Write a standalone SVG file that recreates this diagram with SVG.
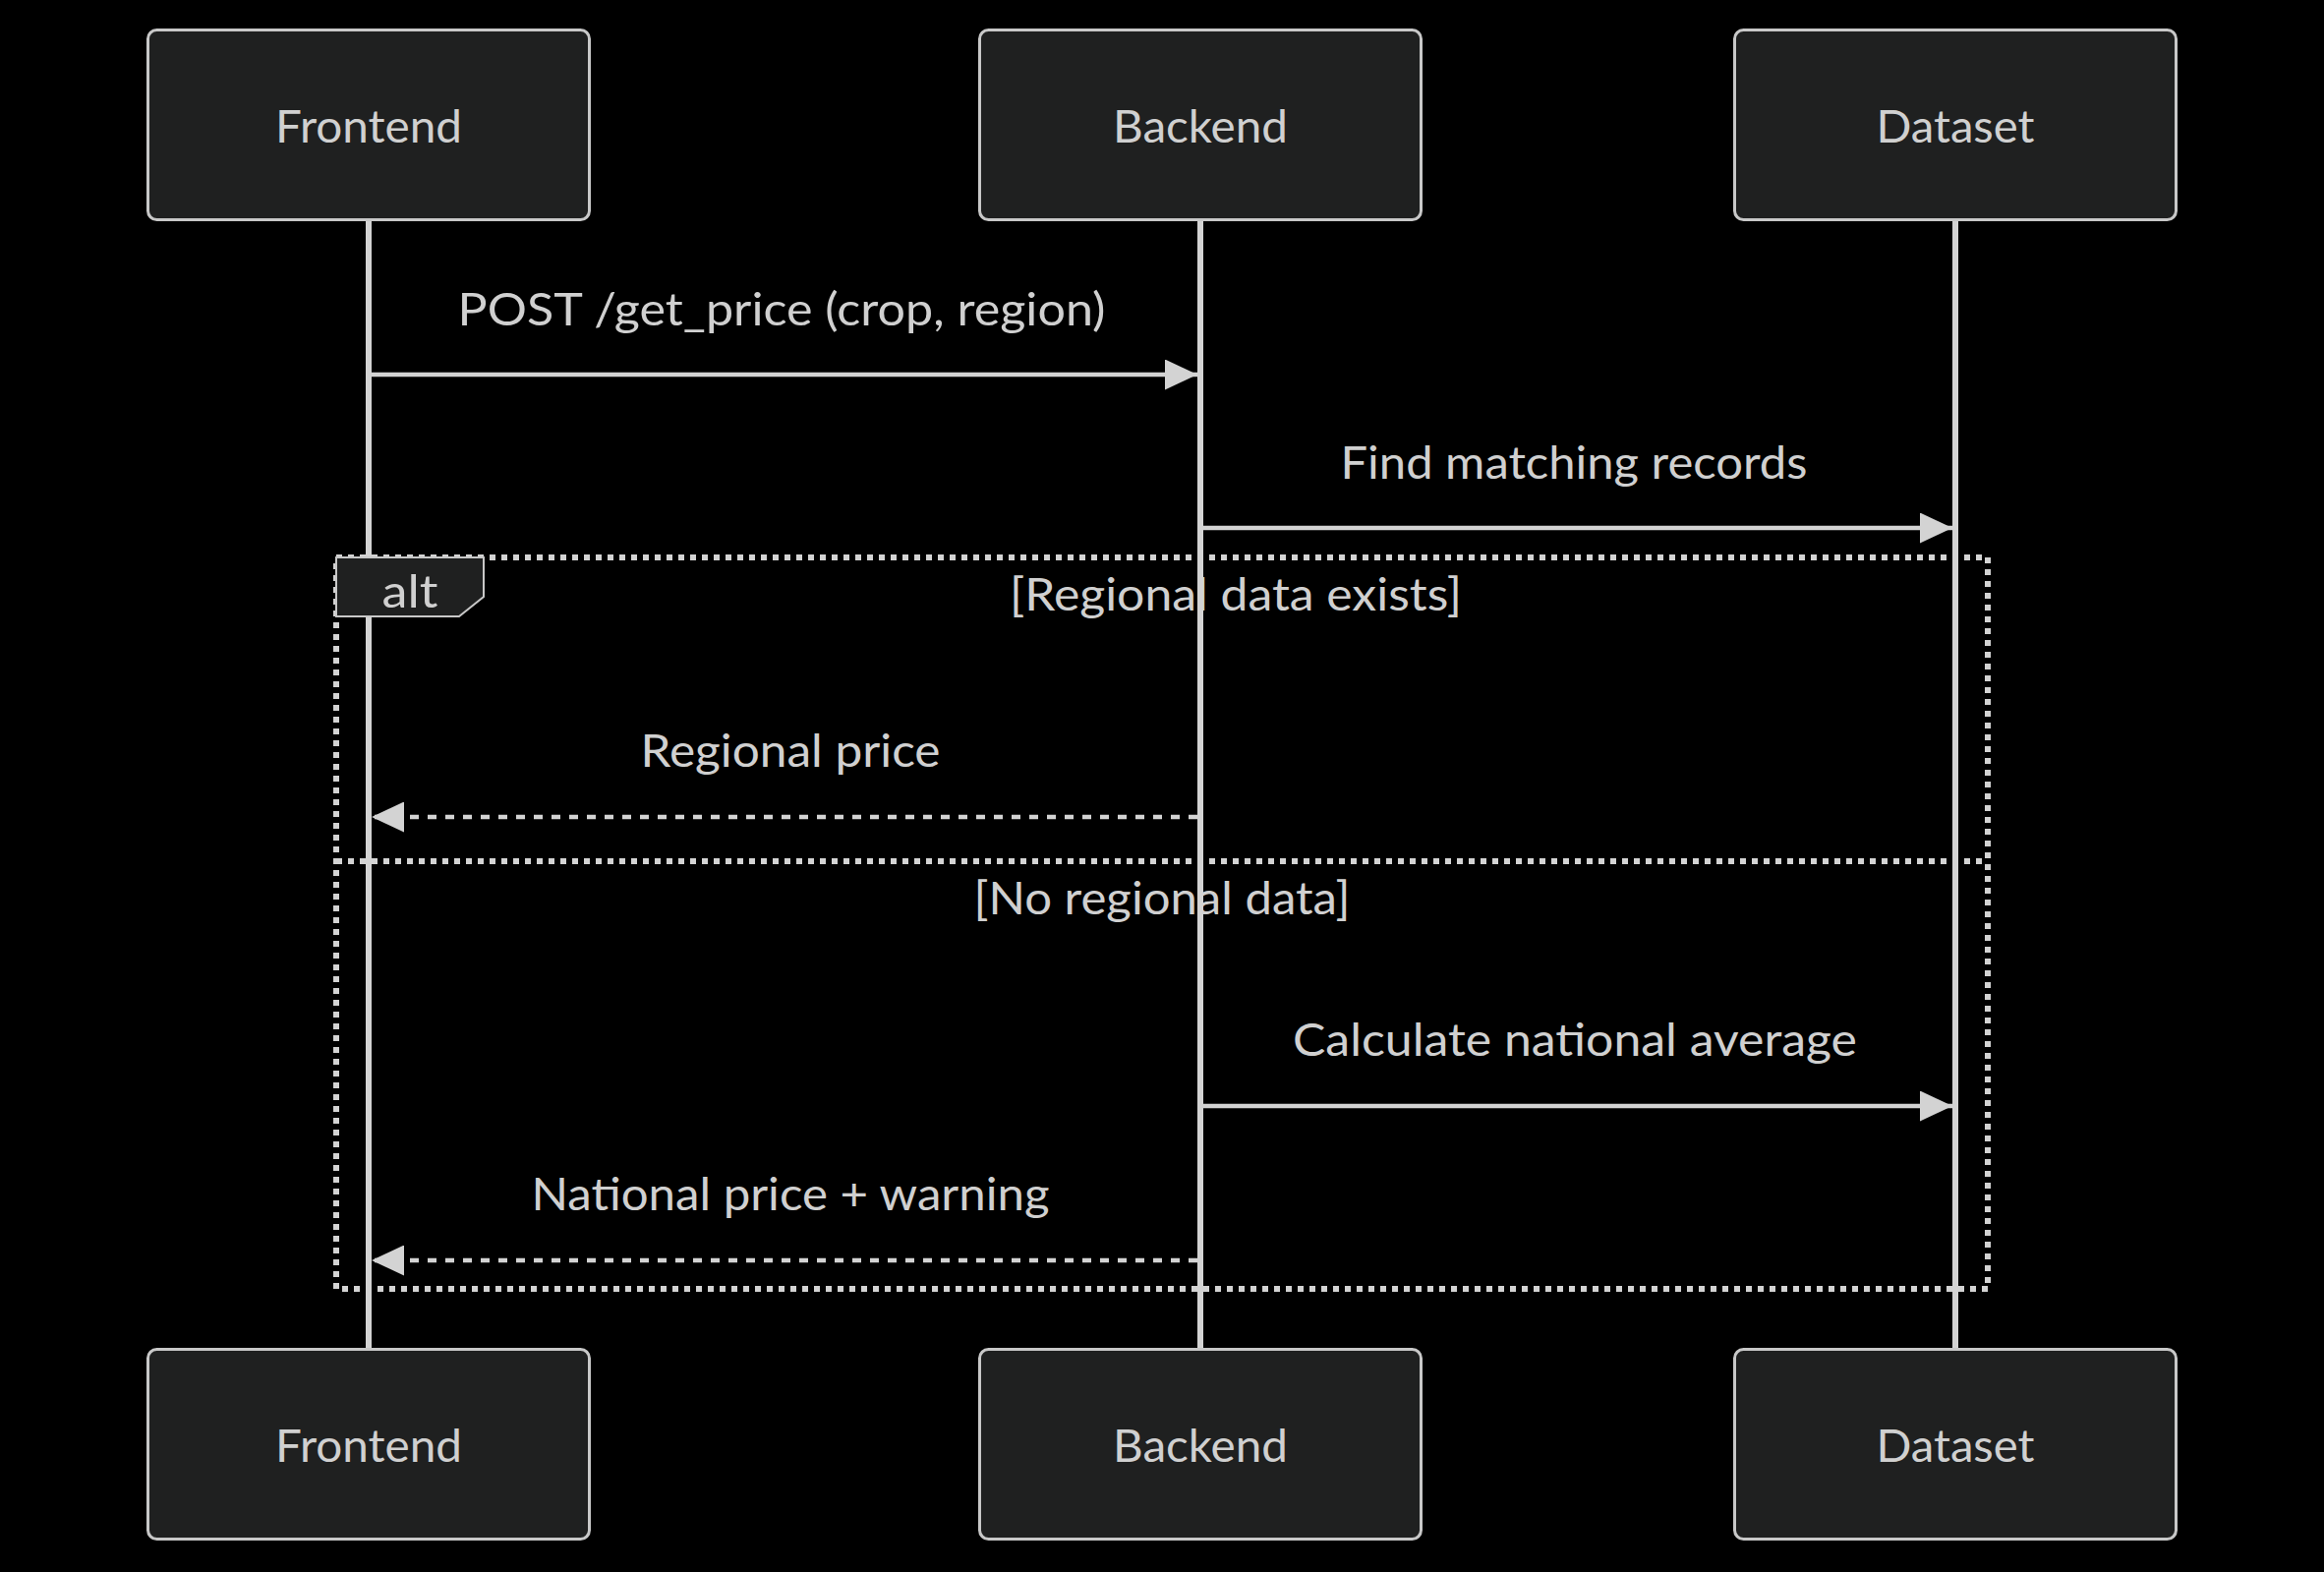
<svg xmlns="http://www.w3.org/2000/svg" width="2364" height="1599" viewBox="0 0 2364 1599">
<defs>
<style>
.bg{fill:#000}
.actor{fill:#1f2020;stroke:#c8c8c8;stroke-width:3}
.t{font-family:Lato,"Open Sans","DejaVu Sans",sans-serif;font-size:46px;fill:#d0d0d0;text-anchor:middle}
.life{stroke:#d3d3d3;stroke-width:6}
.msg{stroke:#d3d3d3;stroke-width:4.5;fill:none}
.dash{stroke-dasharray:9,9}
.loop{fill:none;stroke:#d3d3d3;stroke-width:6;stroke-dasharray:6,6}
.lbl{fill:#1f2020;stroke:#c8c8c8;stroke-width:2}
</style>
<marker id="ah" viewBox="0 0 33 31" refX="33" refY="15.5" markerWidth="33" markerHeight="31" markerUnits="userSpaceOnUse" orient="auto">
<path d="M0,0 L33,15.5 L0,31 Z" fill="#d3d3d3"/>
</marker>
</defs>
<rect class="bg" x="0" y="0" width="2364" height="1599"/>

<g id="alt-frame">
<rect class="loop" x="342" y="567" width="1680" height="744"/>
<line class="loop" x1="342" y1="876" x2="2022" y2="876"/>
<text class="t" x="1257" y="621" textLength="460" lengthAdjust="spacingAndGlyphs">[Regional data exists]</text>
<text class="t" x="1182" y="930" textLength="383" lengthAdjust="spacingAndGlyphs">[No regional data]</text>
</g>

<g id="lifelines">
<line class="life" x1="375" y1="225" x2="375" y2="1371"/>
<line class="life" x1="1221" y1="225" x2="1221" y2="1371"/>
<line class="life" x1="1989" y1="225" x2="1989" y2="1371"/>
</g>

<g id="alt-label">
<polygon class="lbl" points="342,567 492,567 492,607 467,627 342,627"/>
<text class="t" x="417" y="618" textLength="57" lengthAdjust="spacingAndGlyphs">alt</text>
</g>

<g id="connectors">
<line class="msg" x1="378" y1="381" x2="1218" y2="381" marker-end="url(#ah)"/>
<text class="t" x="795" y="331" textLength="659" lengthAdjust="spacingAndGlyphs">POST /get_price (crop, region)</text>
<line class="msg" x1="1224" y1="537" x2="1986" y2="537" marker-end="url(#ah)"/>
<text class="t" x="1601" y="487" textLength="475" lengthAdjust="spacingAndGlyphs">Find matching records</text>
<line class="msg dash" x1="1218" y1="831" x2="378" y2="831" marker-end="url(#ah)"/>
<text class="t" x="804" y="780" textLength="305" lengthAdjust="spacingAndGlyphs">Regional price</text>
<line class="msg" x1="1224" y1="1125" x2="1986" y2="1125" marker-end="url(#ah)"/>
<text class="t" x="1602" y="1074" textLength="574" lengthAdjust="spacingAndGlyphs">Calculate national average</text>
<line class="msg dash" x1="1218" y1="1282" x2="378" y2="1282" marker-end="url(#ah)"/>
<text class="t" x="804" y="1231" textLength="527" lengthAdjust="spacingAndGlyphs">National price + warning</text>
</g>

<g id="frontend-top">
<rect class="actor" x="150.5" y="30.5" width="449" height="193" rx="9"/>
<text class="t" x="375" y="145" textLength="190" lengthAdjust="spacingAndGlyphs">Frontend</text>
</g>
<g id="backend-top">
<rect class="actor" x="996.5" y="30.5" width="449" height="193" rx="9"/>
<text class="t" x="1221" y="145" textLength="178" lengthAdjust="spacingAndGlyphs">Backend</text>
</g>
<g id="dataset-top">
<rect class="actor" x="1764.5" y="30.5" width="449" height="193" rx="9"/>
<text class="t" x="1989" y="145" textLength="161" lengthAdjust="spacingAndGlyphs">Dataset</text>
</g>
<g id="frontend-bottom">
<rect class="actor" x="150.5" y="1372.5" width="449" height="193" rx="9"/>
<text class="t" x="375" y="1487" textLength="190" lengthAdjust="spacingAndGlyphs">Frontend</text>
</g>
<g id="backend-bottom">
<rect class="actor" x="996.5" y="1372.5" width="449" height="193" rx="9"/>
<text class="t" x="1221" y="1487" textLength="178" lengthAdjust="spacingAndGlyphs">Backend</text>
</g>
<g id="dataset-bottom">
<rect class="actor" x="1764.5" y="1372.5" width="449" height="193" rx="9"/>
<text class="t" x="1989" y="1487" textLength="161" lengthAdjust="spacingAndGlyphs">Dataset</text>
</g>
</svg>
